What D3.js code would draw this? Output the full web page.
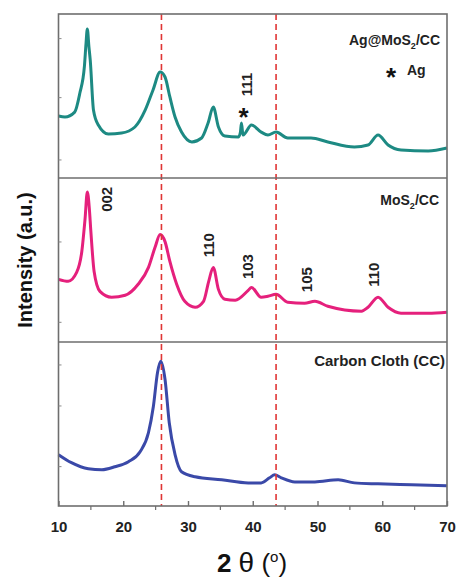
<!DOCTYPE html>
<html>
<head>
<meta charset="utf-8">
<script src="https://cdn.jsdelivr.net/npm/d3@7"></script>
<style>
  html, body { margin: 0; padding: 0; background: #fff; overflow: hidden; }
  svg { display: block; }
  text { font-family: "Liberation Sans", Arial, sans-serif; }
</style>
</head>
<body>
<div id="xrd"></div>
<script>
// 2theta (deg) and intensity (a.u., 0-100 within each panel)
const agTheta = [10, 11, 12.5, 13.3, 14.0, 14.25, 14.45, 14.7, 14.9, 15.4, 16.15, 17.7, 19.75, 21.8, 23.4, 24.6, 25.7, 26.45, 27.2, 28, 29, 30.6, 32.1, 33.1, 33.9, 34.7, 35.7, 37.8, 38.1, 38.25, 38.5, 39.8, 41.3, 42.35, 43.6, 45.4, 49, 51.6, 55.7, 57.8, 59.35, 60.9, 62.9, 67.1, 70];
const agInt   = [37.8, 37.2, 40.2, 51.8, 68, 82, 90.9, 80, 72, 41.5, 32.3, 26.8, 27.4, 31.1, 41.5, 53.7, 64.6, 61.6, 49.4, 37.2, 28, 22, 24.4, 33.5, 43.3, 31.1, 25.6, 25, 28, 33.5, 26.2, 32.3, 28, 26.2, 28, 24.4, 24.4, 22, 18.9, 20.1, 26.2, 20.1, 17.1, 16.5, 18.3];

const mosTheta = [10, 11.5, 12.8, 13.6, 14.1, 14.45, 14.75, 15.0, 15.5, 16.4, 18.2, 20.3, 22.3, 23.9, 24.9, 25.7, 26.45, 27.2, 28.25, 29.5, 31.1, 32.4, 33.2, 33.9, 34.7, 35.7, 37.3, 39.3, 39.8, 41.3, 42.35, 43.6, 45.4, 48, 49.6, 51.6, 56.8, 57.8, 59.35, 60.9, 62.9, 67.1, 70];
const mosInt   = [38.2, 37, 42.4, 55.2, 75, 91.5, 82, 67.3, 43, 30.9, 27.3, 28.5, 35.2, 45.5, 57.6, 65.5, 61.2, 49.1, 35.2, 24.8, 21.2, 24.8, 37, 45.5, 32.1, 26.1, 25.5, 31.5, 33.3, 27.3, 27.9, 29.1, 24.2, 23.6, 24.8, 21.8, 18.8, 21.2, 27.3, 21.2, 17.6, 17.6, 18.2];

const ccTheta = [10, 12, 14.6, 16.7, 18.7, 20.8, 22.6, 23.9, 24.65, 25.3, 25.8, 26.45, 27.1, 28, 29, 31.1, 35.2, 39.3, 41.3, 42.6, 43.4, 44.4, 46.5, 49.6, 53.2, 55.7, 59.35, 64.5, 70];
const ccInt   = [31.3, 26.4, 22.7, 22.1, 23.9, 27, 33.1, 44.8, 60.7, 81.6, 88.3, 77.3, 50.9, 31.3, 20.9, 17.8, 16, 14.1, 14.1, 17.2, 19, 17.2, 14.7, 14.7, 16, 14.1, 13.5, 12.9, 12.3];

const seriesNames  = ["Ag@MoS2/CC", "MoS2/CC", "Carbon Cloth (CC)"];
const seriesColors = ["#1d8a83", "#e5207c", "#3a49a8"];
const xTicks = [10, 20, 30, 40, 50, 60, 70];
const xMinorTicks = [15, 25, 35, 45, 55, 65];
const dashedAt = [25.9, 43.6];
// small inner ticks left on the y axis of each panel (a.u.)
const yTicksPanel = [[85, 49, 11], [61, 12], [86, 61, 24]];

const width = 458
const height = 583
const margin = {top: 14, right: 11, bottom: 77, left: 58.5}
const innerWidth = width - margin.left - margin.right;
const innerHeight = height - margin.top - margin.bottom;
const panelH = innerHeight / 3;

const svg = d3.select("#xrd").append("svg")
    .attr("width", width)
    .attr("height", height)

const g = svg.append("g")
    .attr("transform", `translate(${margin.left}, ${margin.top})`)

const xScale = d3.scaleLinear()
    .domain([10, 70])
    .range([0, innerWidth]);

const panels = [
  {theta: agTheta, val: agInt},
  {theta: mosTheta, val: mosInt},
  {theta: ccTheta, val: ccInt}
];

const yScales = panels.map((p, i) => d3.scaleLinear()
    .domain([0, 100])
    .range([panelH * (i + 1), panelH * i]));

// curves
panels.forEach((p, i) => {
  const pts = p.theta.map((t, k) => [t, p.val[k]]);
  const line = d3.line()
      .x(d => xScale(d[0]))
      .y(d => yScales[i](d[1]))
      .curve(d3.curveMonotoneX);
  g.append("path")
      .datum(pts)
      .attr("fill", "none")
      .attr("stroke", seriesColors[i])
      .attr("stroke-width", 3)
      .attr("stroke-linejoin", "round")
      .attr("d", line);
});

// dashed reference lines
g.selectAll(".ref").data(dashedAt)
  .enter().append("line")
    .attr("x1", d => xScale(d)).attr("x2", d => xScale(d))
    .attr("y1", 0).attr("y2", innerHeight)
    .attr("stroke", "#e03535")
    .attr("stroke-width", 1.6)
    .attr("stroke-dasharray", "6,4");

// frame + panel separators
g.append("rect")
    .attr("width", innerWidth).attr("height", innerHeight)
    .attr("fill", "none").attr("stroke", "#6e6e6e").attr("stroke-width", 1.6);
[1, 2].forEach(i => {
  g.append("line")
    .attr("x1", 0).attr("x2", innerWidth)
    .attr("y1", panelH * i).attr("y2", panelH * i)
    .attr("stroke", "#6e6e6e").attr("stroke-width", 1.6);
});

// small left ticks
yTicksPanel.forEach((ticks, i) => {
  g.selectAll(null).data(ticks).enter().append("line")
    .attr("x1", 0).attr("x2", 3)
    .attr("y1", d => yScales[i](d)).attr("y2", d => yScales[i](d))
    .attr("stroke", "#8a8a8a").attr("stroke-width", 1);
});

// x axis
const xAxisG = g.append("g")
    .attr("transform", `translate(0, ${innerHeight})`)
    .call(d3.axisBottom(xScale).tickValues(xTicks).tickSize(-5).tickPadding(15).tickFormat(d3.format("d")));
xAxisG.select(".domain").remove();
xAxisG.selectAll("line").attr("stroke", "#6e6e6e").attr("stroke-width", 1.4);
xAxisG.selectAll("text")
    .attr("fill", "#222")
    .style("font-size", "15px")
    .style("font-weight", "bold");

g.selectAll(".minor").data(xMinorTicks)
  .enter().append("line")
    .attr("x1", d => xScale(d)).attr("x2", d => xScale(d))
    .attr("y1", innerHeight).attr("y2", innerHeight + 4)
    .attr("stroke", "#6e6e6e").attr("stroke-width", 1.2);

// axis titles
const xTitle = svg.append("text")
    .attr("x", 252)
    .attr("y", 572)
    .attr("text-anchor", "middle")
    .attr("fill", "#111")
    .style("font-size", "26px");
xTitle.append("tspan").style("font-weight", "bold").text("2 ");
xTitle.append("tspan").style("font-size", "28px").text("θ");
xTitle.append("tspan").text(" (");
xTitle.append("tspan").attr("dy", -10).style("font-size", "15px").text("o");
xTitle.append("tspan").attr("dy", 10).text(")");

svg.append("text")
    .attr("transform", `translate(32, 260) rotate(-90)`)
    .attr("text-anchor", "middle")
    .attr("fill", "#111")
    .style("font-size", "20px")
    .style("font-weight", "bold")
    .text("Intensity (a.u.)");

// sample names
function sampleLabel(x, y, parts) {
  const t = svg.append("text")
      .attr("x", x).attr("y", y)
      .attr("text-anchor", "end")
      .attr("fill", "#222")
      .style("font-size", "14px")
      .style("font-weight", "bold");
  parts.forEach(p => {
    t.append("tspan").attr("dy", p.dy || 0).style("font-size", p.size || null).text(p.s);
  });
}
sampleLabel(440, 45, [{s: "Ag@MoS"}, {s: "2", dy: 4, size: "9px"}, {s: "/CC", dy: -4}]);
sampleLabel(439, 205, [{s: "MoS"}, {s: "2", dy: 4, size: "9px"}, {s: "/CC", dy: -4}]);
svg.append("text")
    .attr("x", 445).attr("y", 366)
    .attr("text-anchor", "end")
    .attr("fill", "#222")
    .style("font-size", "15px")
    .style("font-weight", "bold")
    .text(seriesNames[2]);

// Ag legend
svg.append("text").attr("x", 391).attr("y", 86).attr("text-anchor", "middle")
    .style("font-size", "26px").style("font-weight", "bold").attr("fill", "#111").text("*");
svg.append("text").attr("x", 407).attr("y", 75)
    .style("font-size", "14px").style("font-weight", "bold").attr("fill", "#222").text("Ag");

// peak indices (rotated)
const peakLabels = ["111", "002", "110", "103", "105", "110"];
const peakPanel  = [0, 1, 1, 1, 1, 1];
const peakTheta  = [39.0, 17.5, 33.2, 39.3, 48.3, 58.7];
const peakVal    = [57, 87, 59, 46, 38, 41];
peakLabels.forEach((s, i) => {
  const x = margin.left + xScale(peakTheta[i]);
  const y = margin.top + yScales[peakPanel[i]](peakVal[i]);
  svg.append("text")
      .attr("transform", `translate(${x}, ${y}) rotate(-90)`)
      .attr("text-anchor", "middle")
      .attr("dy", "0.35em")
      .attr("fill", "#222")
      .style("font-size", "15px")
      .style("font-weight", "bold")
      .text(s);
});
// Ag(111) marker
svg.append("text")
    .attr("x", margin.left + xScale(38.6)).attr("y", 126)
    .attr("text-anchor", "middle")
    .style("font-size", "26px").style("font-weight", "bold").attr("fill", "#111").text("*");
</script>
</body>
</html>
